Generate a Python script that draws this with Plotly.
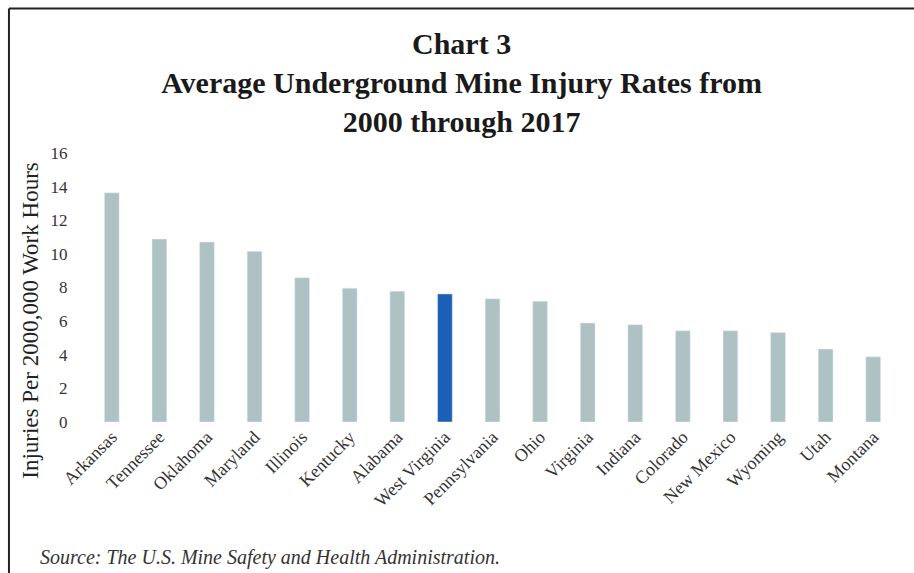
import plotly.graph_objects as go

states = ["Arkansas", "Tennessee", "Oklahoma", "Maryland", "Illinois", "Kentucky",
          "Alabama", "West Virginia", "Pennsylvania", "Ohio", "Virginia", "Indiana",
          "Colorado", "New Mexico", "Wyoming", "Utah", "Montana"]
rates = [13.63, 10.88, 10.70, 10.15, 8.58, 7.96, 7.78, 7.62, 7.33, 7.18,
         5.89, 5.79, 5.43, 5.43, 5.33, 4.34, 3.88]
highlight = "West Virginia"
y_ticks = [0, 2, 4, 6, 8, 10, 12, 14, 16]

base_color = "#aec2c3"
hl_color = "#1c60b6"
colors = [hl_color if s == highlight else base_color for s in states]

serif = "Liberation Serif, Times New Roman, serif"

fig = go.Figure(go.Bar(x=states, y=rates, marker_color=colors, width=0.31))

fig.update_layout(
    width=914, height=573,
    margin=dict(l=88, r=17, t=153, b=151, autoexpand=False),
    paper_bgcolor="white", plot_bgcolor="white",
    showlegend=False,
    font=dict(family=serif, color="#333333"),
    title=dict(
        text="<b>Chart 3<br>Average Underground Mine Injury Rates from<br>2000 through 2017</b>",
        x=0.505, xanchor="center", y=0.905, yanchor="top",
        font=dict(family=serif, size=30, color="#1a1a1a"),
    ),
    xaxis=dict(tickangle=-45, automargin=False,
               tickfont=dict(size=18, family=serif, color="#333333"),
               showgrid=False, showline=False, zeroline=False),
    yaxis=dict(range=[0, 16], tickvals=y_ticks, showgrid=False, zeroline=False,
               showline=False, ticks="outside", ticklen=16, automargin=False,
               tickcolor="rgba(0,0,0,0)",
               tickfont=dict(size=17, family=serif, color="#333333")),
)

fig.add_annotation(
    text="Injuries Per 2000,000 Work Hours", textangle=-90,
    xref="paper", yref="paper", x=-0.0705, y=0.38,
    xanchor="center", yanchor="middle", showarrow=False,
    font=dict(family=serif, size=23, color="#222222"),
)

fig.add_annotation(
    text="<i>Source: The U.S. Mine Safety and Health Administration.</i>",
    xref="paper", yref="paper", x=-0.062, y=-0.503,
    xanchor="left", yanchor="middle", showarrow=False,
    font=dict(family=serif, size=20, color="#333333"),
)

# frame lines (top and left)
fig.add_shape(type="line", xref="paper", yref="paper",
              x0=-0.0977, x1=1.03, y0=1.537, y1=1.537,
              line=dict(color="#222222", width=2))
fig.add_shape(type="line", xref="paper", yref="paper",
              x0=-0.0977, x1=-0.0977, y0=1.537, y1=-0.6,
              line=dict(color="#222222", width=2))

fig.write_html("out.html", config={"displayModeBar": False},
               post_script="document.body.style.margin='0';document.body.style.overflow='hidden';")
